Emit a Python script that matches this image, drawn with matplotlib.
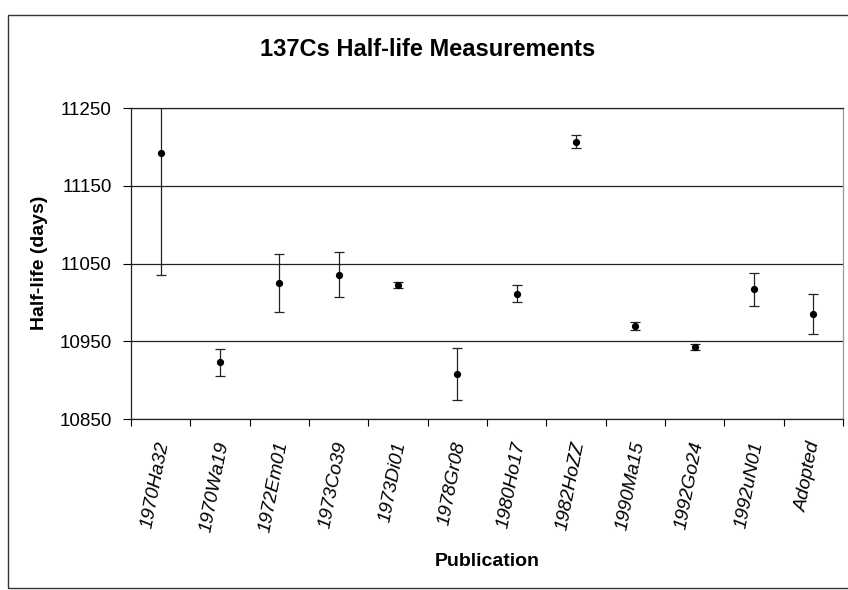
import matplotlib
matplotlib.use("Agg")
import matplotlib.pyplot as plt
import matplotlib.transforms as mtransforms
from matplotlib.patches import Rectangle
import numpy as np

plt.rcParams['font.family'] = ['Liberation Sans', 'DejaVu Sans']

# measurements of the Cs-137 half-life (days) with quoted uncertainties
publications = ["1970Ha32", "1970Wa19", "1972Em01", "1973Co39", "1973Di01", "1978Gr08",
                "1980Ho17", "1982HoZZ", "1990Ma15", "1992Go24", "1992uN01", "Adopted"]
half_life = [11192, 10923, 11025, 11036, 11023, 10908, 11011, 11207, 10970, 10943, 11017, 10985]
uncertainty = [156, 17, 37, 29, 4, 33, 11, 8, 5, 4, 21, 26]
y_ticks = [10850, 10950, 11050, 11150, 11250]

fig = plt.figure(figsize=(8.48, 5.90), dpi=100)
ax = fig.add_axes([131/848, 1-419/590, (843-131)/848, (419-108.3)/590])

x = np.arange(len(publications))
ax.errorbar(x, half_life, yerr=uncertainty, fmt='o', color='black', ms=4.2,
            ecolor='#222222', elinewidth=0.9, capsize=3.5, capthick=0.9, zorder=3)

ax.set_xlim(-0.5, len(publications)-0.5)
ax.set_ylim(10850, 11250)
ax.set_yticks(y_ticks)
ax.set_yticklabels([str(v) for v in y_ticks], fontsize=13.5)

# category labels between boundary ticks, like a spreadsheet chart
ax.set_xticks(x)
ax.set_xticklabels(publications, rotation=79, style='italic', fontsize=13.8, va='top', ha='center')
ax.set_xticks(np.arange(len(publications)+1)-0.5, minor=True)
ax.tick_params(axis='x', which='major', length=0, pad=15)
ax.tick_params(axis='x', which='minor', length=5, width=0.8, direction='out')
ax.tick_params(axis='y', length=6, width=0.8, direction='out', pad=8)
shift = mtransforms.ScaledTranslation(-5/100, 0, fig.dpi_scale_trans)
for lbl in ax.get_xticklabels():
    lbl.set_transform(lbl.get_transform() + shift)

ax.yaxis.grid(True, color='#222222', linewidth=0.9)
ax.set_axisbelow(True)
for side in ['left', 'bottom', 'top']:
    ax.spines[side].set_color('#222222')
    ax.spines[side].set_linewidth(0.9)
ax.spines['right'].set_color('#999999')
ax.spines['right'].set_linewidth(0.9)

fig.text(428/848, 1-50/590, "137Cs Half-life Measurements", fontsize=17, fontweight='bold',
         ha='center', va='center')
fig.text(39/848, 1-263/590, "Half-life (days)", fontsize=14, fontweight='bold',
         rotation=90, ha='center', va='center')
fig.text(487/848, 1-561/590, "Publication", fontsize=14, fontweight='bold',
         ha='center', va='center')

# chart area border
fig.patches.append(Rectangle((8/848, 1-588/590), 1.0, (588-14.5)/590, transform=fig.transFigure,
                             fill=False, edgecolor='#333333', linewidth=1.0))

fig.savefig("out.png", dpi=100)
